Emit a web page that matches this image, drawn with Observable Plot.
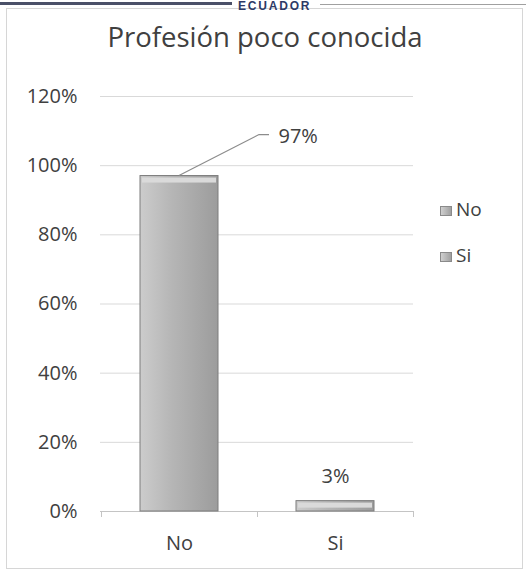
<!DOCTYPE html>
<html><head><meta charset="utf-8">
<script src="https://cdn.jsdelivr.net/npm/d3@7"></script>
<script src="https://cdn.jsdelivr.net/npm/@observablehq/plot@0.6"></script>
<style>
body{margin:0;background:#fff;font-family:"Open Sans",sans-serif;}
#wrap{position:relative;width:526px;height:570px;overflow:hidden;background:#fff;}
#chart{position:absolute;left:0;top:0;}
#frame{position:absolute;left:6px;top:8px;width:517px;height:561px;border:1px solid #d6d6d6;box-sizing:border-box;}
#title{position:absolute;left:0;width:530px;top:18px;text-align:center;font-size:27.5px;color:#404040;}
#hdrL{position:absolute;left:0;top:2px;width:232px;height:3px;background:#4a5068;}
#hdrR{position:absolute;left:320px;top:4px;width:206px;height:1px;background:#a0a0a0;}
#hdr{position:absolute;left:238px;top:0px;font:bold 12px/12px "Liberation Sans",sans-serif;color:#2d3a66;letter-spacing:1.8px;}
.leg{position:absolute;left:440px;font-size:19px;color:#404040;line-height:22px;}
.leg span.sw{display:inline-block;width:12px;height:10px;background:linear-gradient(90deg,#cfcfcf,#a0a0a0);border:1px solid #8a8a8a;margin-right:4px;vertical-align:0px;box-sizing:border-box;}
</style></head><body>
<div id="wrap">
  <div id="chart"></div>
  <div id="frame"></div>
  <div id="hdrL"></div><div id="hdrR"></div><div id="hdr"></div>
  <div id="title"></div>
  <div id="legend"></div>
</div>
<script>
const categories = ["No", "Si"];
const values = [0.97, 0.03];
const valueLabels = ["97%", "3%"];
const yTicks = [0, 0.2, 0.4, 0.6, 0.8, 1.0, 1.2];
const titleText = "Profesión poco conocida";
const headerText = "ECUADOR";
const legendItems = ["No", "Si"];

const data = categories.map((c, i) => ({category: c, value: values[i], label: valueLabels[i]}));

document.getElementById("title").textContent = titleText;
document.getElementById("hdr").textContent = headerText;
const leg = document.getElementById("legend");
legendItems.forEach((t, i) => {
  const d = document.createElement("div");
  d.className = "leg";
  d.style.top = (198 + i * 46) + "px";
  d.innerHTML = '<span class="sw"></span>';
  d.appendChild(document.createTextNode(t));
  leg.appendChild(d);
});

const leader = (index, scales) => {
  const sx = scales.x, sy = scales.y;
  const bw = typeof sx.bandwidth === "function" ? sx.bandwidth() : sx.bandwidth;
  const x0 = sx(categories[0]) + bw / 2, y0 = sy(values[0]);
  const p = d3.create("svg:path")
    .attr("d", `M${x0},${y0}L${x0 + 80},${y0 - 41}L${x0 + 90},${y0 - 41}`)
    .attr("fill", "none").attr("stroke", "#8c8c8c").attr("stroke-width", 1.2);
  return p.node();
};

const plot = Plot.plot({
  width: 526,
  height: 570,
  marginLeft: 100,
  marginRight: 113,
  marginTop: 96,
  marginBottom: 59,
  style: {fontFamily: "'Open Sans', sans-serif", fontSize: "20px", color: "#404040", background: "transparent"},
  x: {domain: categories, paddingInner: 0.5, paddingOuter: 0.25, label: null, tickSize: 0, tickPadding: 24},
  y: {domain: [0, 1.2], ticks: yTicks, tickFormat: d3.format(".0%"), label: null, tickSize: 0, tickPadding: 23},
  marks: [
    Plot.gridY(yTicks, {stroke: "#d9d9d9", strokeOpacity: 1}),
    Plot.ruleY([0], {stroke: "#c4c4c4"}),
    Plot.ruleX([categories[0]], {y1: 0, y2: 0, insetBottom: -6, dx: -78, stroke: "#c4c4c4"}),
    Plot.ruleX(categories, {y1: 0, y2: 0, insetBottom: -6, dx: 78, stroke: "#c4c4c4"}),
    Plot.barY(data, {x: "category", y: "value", fill: "url(#barGrad)", stroke: "#7d7d7d", strokeWidth: 1}),
    Plot.barY(data, {x: "category", y1: d => d.value, y2: d => d.value, insetBottom: -5, fill: "#dadada", insetLeft: 2, insetRight: 2, dy: 2}),
    leader,
    Plot.text(data.filter((d, i) => i === 0), {x: "category", y: "value", text: "label", dx: 99, dy: -39, textAnchor: "start", fill: "#404040", fontSize: 20}),
    Plot.text(data.filter((d, i) => i === 1), {x: "category", y: "value", text: "label", dy: -25, fill: "#404040", fontSize: 20})
  ]
});

const svg = d3.select(plot);
const defs = svg.insert("defs", ":first-child");
const g = defs.append("linearGradient").attr("id", "barGrad").attr("x1", 0).attr("x2", 1).attr("y1", 0).attr("y2", 0);
g.append("stop").attr("offset", "0%").attr("stop-color", "#cccccc");
g.append("stop").attr("offset", "40%").attr("stop-color", "#b6b6b6");
g.append("stop").attr("offset", "100%").attr("stop-color", "#9c9c9c");
svg.selectAll("[aria-label='y-axis tick label'] text, [aria-label='x-axis tick label'] text").attr("fill", "#404040");

document.getElementById("chart").appendChild(plot);
</script>
</body></html>
